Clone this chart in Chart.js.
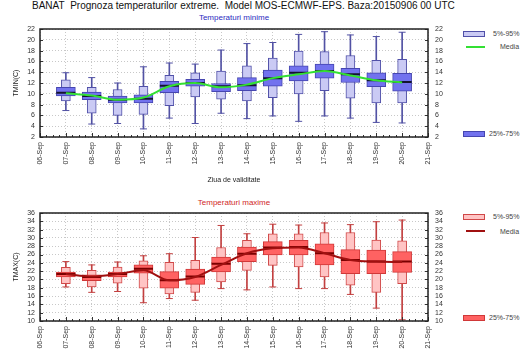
<!DOCTYPE html>
<html><head><meta charset="utf-8">
<script src="https://cdn.jsdelivr.net/npm/chart.js@4.4.1/dist/chart.umd.min.js"></script>
<style>
body{margin:0;width:525px;height:350px;position:relative;background:#fff;font-family:'Liberation Sans',Arial,sans-serif;overflow:hidden}
canvas{position:absolute;left:0}
.t{position:absolute;white-space:nowrap;line-height:1}
.lb{position:absolute;left:463px;width:20px;height:4px;border:1px solid}
.ll{position:absolute;left:466px;width:19px;height:0;border-top:2px solid}
.lt{position:absolute;white-space:nowrap;line-height:1;font-size:7px;color:#444}
</style></head><body>
<div class="t" style="left:32px;top:1px;font-size:10px;color:#111">BANAT&nbsp; Prognoza temperaturilor extreme.&nbsp; Model MOS-ECMWF-EPS. Baza:20150906 00 UTC</div>
<div class="t" style="left:234px;top:14px;font-size:8px;color:#2a2ac0;transform:translateX(-50%)">Temperaturi minime</div>
<div class="t" style="left:234px;top:199px;font-size:8px;color:#d02828;transform:translateX(-50%)">Temperaturi maxime</div>

<div class="lb" style="top:31px;background:#cacaf4;border-color:#5050a8"></div>
<div class="lt" style="left:493px;top:30px">5%-95%</div>
<div class="ll" style="top:46px;border-color:#33e033"></div>
<div class="lt" style="left:500px;top:43px">Media</div>
<div class="lb" style="top:131px;background:#7272ee;border-color:#4646b0"></div>
<div class="lt" style="left:489px;top:130px">25%-75%</div>

<div class="lb" style="top:214px;background:#ffc4c4;border-color:#d04848"></div>
<div class="lt" style="left:493px;top:213px">5%-95%</div>
<div class="ll" style="top:230px;border-color:#a01010"></div>
<div class="lt" style="left:500px;top:228px">Media</div>
<div class="lb" style="top:315px;background:#ff6262;border-color:#d03838"></div>
<div class="lt" style="left:489px;top:314px">25%-75%</div>

<canvas id="c1" width="525" height="190" style="top:0"></canvas>
<canvas id="c2" width="525" height="160" style="top:190px"></canvas>
<script>
const dates = ['06-Sep','07-Sep','08-Sep','09-Sep','10-Sep','11-Sep','12-Sep','13-Sep','14-Sep','15-Sep','16-Sep','17-Sep','18-Sep','19-Sep','20-Sep','21-Sep'];
const tminTicks = [2, 22, 2];
const tmaxTicks = [10, 36, 2];

const tminMin  = [null, 6.9, 4.4, 4.5, 3.5, 5.5, 4.5, 6.4, 5.4, 5.9, 4.9, 5.9, 5.5, 4.7, 4.6, null];
const tminP5   = [null, 8.7, 6.4, 6.0, 6.2, 7.8, 9.4, 9.0, 8.7, 9.3, 10.0, 10.6, 9.2, 8.3, 8.3, null];
const tminQ25  = [null, 9.6, 8.9, 8.3, 8.3, 10.2, 11.4, 10.4, 10.6, 11.4, 12.4, 12.9, 12.1, 11.3, 10.5, null];
const tminMed  = [null, 10.2, 9.6, 8.9, 9.1, 11.5, 12.0, 11.4, 11.6, 12.9, 13.9, 14.2, 13.6, 12.5, 12.2, null];
const tminQ75  = [null, 11.2, 10.3, 9.6, 9.8, 12.3, 12.7, 11.9, 13.0, 14.4, 15.2, 15.5, 14.7, 13.9, 13.8, null];
const tminP95  = [null, 12.6, 11.2, 10.8, 11.4, 13.4, 13.9, 14.2, 15.2, 16.6, 17.9, 17.8, 17.1, 16.2, 16.4, null];
const tminMax  = [null, 13.9, 13.0, 12.0, 15.0, 15.7, 15.5, 18.1, 19.3, 19.5, 21.0, 21.5, 20.9, 20.6, 21.4, null];
const tminMean = [null, 10.1, 9.7, 8.9, 9.3, 11.4, 12.0, 11.2, 11.7, 12.9, 13.6, 14.2, 13.4, 12.5, 12.1, null];

const tmaxMin  = [null, 18.2, 16.9, 17.1, 14.4, 15.4, 15.0, 17.8, 17.5, 18.2, 17.8, 17.8, 16.4, 13.1, 10.3, null];
const tmaxP5   = [null, 19.0, 18.2, 19.1, 17.9, 16.5, 16.9, 19.4, 22.2, 23.4, 23.0, 20.6, 18.6, 16.9, 19.0, null];
const tmaxQ25  = [null, 20.6, 19.7, 20.6, 21.5, 17.9, 18.8, 21.8, 24.3, 25.9, 25.9, 23.5, 21.4, 21.4, 21.7, null];
const tmaxMed  = [null, 21.3, 20.6, 21.3, 22.6, 19.8, 20.7, 23.8, 26.2, 27.7, 27.8, 26.3, 24.7, 24.3, 24.3, null];
const tmaxQ75  = [null, 21.8, 21.1, 21.8, 23.5, 21.9, 22.5, 25.4, 27.8, 29.1, 29.4, 28.6, 27.2, 27.1, 26.7, null];
const tmaxP95  = [null, 22.9, 22.2, 23.0, 24.5, 24.1, 24.6, 27.7, 29.4, 31.0, 31.0, 31.3, 31.3, 29.5, 29.3, null];
const tmaxMax  = [null, 24.3, 23.5, 24.2, 25.7, 26.2, 30.1, 33.0, 31.0, 33.3, 33.1, 33.6, 33.2, 33.9, 34.3, null];
const tmaxMean = [null, 21.3, 20.7, 21.3, 22.2, 19.8, 20.6, 23.5, 26.3, 27.5, 27.7, 26.3, 24.7, 24.3, 24.2, null];

Chart.defaults.font.family = "'Liberation Sans', Arial, sans-serif";

function pairs(a, b) { return a.map((v, i) => (v == null || b[i] == null) ? null : [v, b[i]]); }

const framePlugin = {
  id: 'frame',
  afterDatasetsDraw(chart) {
    const {ctx, chartArea: a, scales} = chart;
    const x = scales.x, y = scales.y;
    ctx.save();
    ctx.strokeStyle = '#333'; ctx.lineWidth = 1;
    ctx.beginPath();
    for (let v = 0; v <= dates.length - 1 + 1e-9; v += 0.25) {
      const px = Math.round(x.getPixelForValue(v)) + 0.5;
      const len = Math.abs(v - Math.round(v)) < 1e-6 ? 4 : 2;
      ctx.moveTo(px, a.bottom); ctx.lineTo(px, a.bottom - len);
    }
    y.ticks.forEach(t => {
      const py = Math.round(y.getPixelForValue(t.value)) + 0.5;
      ctx.moveTo(a.left, py); ctx.lineTo(a.left + 3, py);
      ctx.moveTo(a.right, py); ctx.lineTo(a.right - 3, py);
    });
    ctx.stroke();
    ctx.lineWidth = 1.5; ctx.strokeStyle = '#222';
    ctx.strokeRect(a.left, a.top, a.right - a.left, a.bottom - a.top);
    ctx.restore();
  }
};

function build(id, s) {
  const tickFont = {size: 7};
  return new Chart(document.getElementById(id), {
    type: 'bar',
    data: {
      labels: dates,
      datasets: [
        {type: 'line', data: s.mean, borderColor: s.meanColor, borderWidth: 2, pointRadius: 0, cubicInterpolationMode: 'monotone', order: 0},
        {type: 'line', data: s.med, showLine: false, pointStyle: 'line', pointRadius: 9.5, pointBorderWidth: 2, pointBorderColor: s.medColor, order: 1},
        {data: pairs(s.q25, s.q75), backgroundColor: s.darkFill, borderColor: s.darkBorder, borderWidth: 1, borderSkipped: false, barThickness: 19, grouped: false, order: 2},
        {data: pairs(s.p5, s.p95), backgroundColor: s.lightFill, borderColor: s.lightBorder, borderWidth: 1, borderSkipped: false, barThickness: 9, grouped: false, order: 3},
        {type: 'line', data: s.max, showLine: false, pointStyle: 'line', pointRadius: 3.5, pointBorderWidth: 1, pointBorderColor: s.whisk, order: 4},
        {type: 'line', data: s.min, showLine: false, pointStyle: 'line', pointRadius: 3.5, pointBorderWidth: 1, pointBorderColor: s.whisk, order: 5},
        {data: pairs(s.min, s.max), backgroundColor: s.whisk, borderWidth: 0, barThickness: 1, grouped: false, order: 6}
      ]
    },
    options: {
      responsive: false, animation: false, devicePixelRatio: 1,
      layout: {padding: {top: s.padTop, left: 0, right: 72, bottom: 0}},
      plugins: {legend: {display: false}, tooltip: {enabled: false}},
      scales: {
        x: {
          type: 'category', offset: false,
          grid: {offset: false, color: '#c8c8c8', drawTicks: false},
          border: {display: false, dash: [1, 2]},
          ticks: {autoSkip: false, minRotation: 90, maxRotation: 90, padding: 5, font: tickFont, color: '#333'},
          title: {display: s.xTitle, text: 'Ziua de validitate', font: {size: 7}, color: '#222', padding: {top: 0, bottom: 6}},
          afterFit(sc) { sc.height = s.xHeight; }
        },
        y: {
          position: 'left', min: s.ticks[0], max: s.ticks[1],
          ticks: {stepSize: s.ticks[2], autoSkip: false, padding: 5, font: tickFont, color: '#333'},
          grid: {color: '#c8c8c8', drawTicks: false},
          border: {display: false, dash: [1, 2]},
          title: {display: true, text: s.yTitle, font: {size: 7}, color: '#222', padding: {top: 12, bottom: 0}},
          afterFit(sc) { sc.width = 40; }
        },
        y2: {
          position: 'right', min: s.ticks[0], max: s.ticks[1],
          ticks: {stepSize: s.ticks[2], autoSkip: false, padding: 7, font: tickFont, color: '#333'},
          grid: {drawOnChartArea: false, drawTicks: false},
          border: {display: false},
          afterFit(sc) { sc.width = 25; }
        }
      }
    },
    plugins: [framePlugin]
  });
}

build('c1', {
  min: tminMin, p5: tminP5, q25: tminQ25, med: tminMed, q75: tminQ75, p95: tminP95, max: tminMax, mean: tminMean,
  ticks: tminTicks, yTitle: 'TMIN(C)', xTitle: true, xHeight: 53, padTop: 29,
  meanColor: '#33e033', medColor: '#141430', darkFill: '#7272ee', darkBorder: '#4646b0',
  lightFill: '#cacaf4', lightBorder: '#5050a8', whisk: '#5252a4'
});
build('c2', {
  min: tmaxMin, p5: tmaxP5, q25: tmaxQ25, med: tmaxMed, q75: tmaxQ75, p95: tmaxP95, max: tmaxMax, mean: tmaxMean,
  ticks: tmaxTicks, yTitle: 'TMAX(C)', xTitle: false, xHeight: 29, padTop: 23,
  meanColor: '#a01010', medColor: '#7a0000', darkFill: '#ff6262', darkBorder: '#d03838',
  lightFill: '#ffc4c4', lightBorder: '#d04848', whisk: '#c24040'
});
</script>
</body></html>
